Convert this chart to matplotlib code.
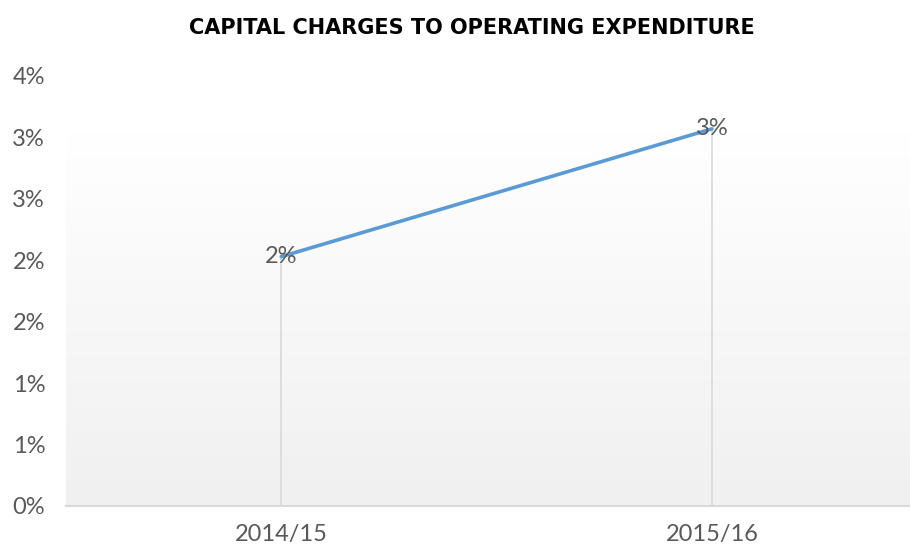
import numpy as np
import matplotlib.pyplot as plt
from matplotlib.colors import LinearSegmentedColormap
from matplotlib.ticker import FuncFormatter
import math

# data
years = ['2014/15', '2015/16']
ratio = [0.0203, 0.0307]   # capital charges / operating expenditure
y_ticks = [0.0, 0.005, 0.01, 0.015, 0.02, 0.025, 0.03, 0.035]

plt.rcParams['font.family'] = ['Lato', 'DejaVu Sans']

grey_text = '#595959'
line_col = '#5b9bd5'


def pct(v, pos=None):
    # Excel style rounding (half up)
    return f"{int(math.floor(v * 100 + 0.5 + 1e-9))}%"


fig = plt.figure(figsize=(9.1, 5.5), dpi=100)
ax = fig.add_axes([66 / 910, 1 - 506 / 550, 1 - 66 / 910, (506 - 76) / 550])

x = np.arange(len(years))
ax.set_xlim(-0.5, 1.46)
ax.set_ylim(0, 0.035)

# soft vertical gradient behind the plot: white at top, light grey at bottom
grad = np.linspace(0.0, 1.0, 256).reshape(-1, 1)
cmap = LinearSegmentedColormap.from_list('g', ['#ffffff', '#f0f0f0'])
ax.imshow(grad, extent=[-0.5, 1.46, 0, 0.0305], aspect='auto', cmap=cmap,
          vmin=0, vmax=1, origin='upper', zorder=0)

# drop lines
ax.vlines(x, 0, ratio, colors='#d9d9d9', linewidth=1.2, zorder=1)
ax.plot(x, ratio, color=line_col, linewidth=2.6, solid_capstyle='round', zorder=3)

for xi, v in zip(x, ratio):
    ax.text(xi, v, pct(v), ha='center', va='center', fontsize=17,
            color=grey_text, zorder=4)

ax.set_yticks(y_ticks)
ax.yaxis.set_major_formatter(FuncFormatter(pct))
ax.set_xticks(x)
ax.set_xticklabels(years)
ax.tick_params(axis='both', length=0, labelsize=17, labelcolor=grey_text)
ax.tick_params(axis='y', pad=15)
ax.tick_params(axis='x', pad=13)

for s in ['top', 'right', 'left']:
    ax.spines[s].set_visible(False)
ax.spines['bottom'].set_color('#d9d9d9')
ax.spines['bottom'].set_linewidth(1.5)

fig.text(472 / 910, 1 - 28 / 550, 'CAPITAL CHARGES TO OPERATING EXPENDITURE',
         ha='center', va='center', fontsize=15, fontweight='bold', color='black',
         family='DejaVu Sans')

fig.savefig('out.png', dpi=100)
